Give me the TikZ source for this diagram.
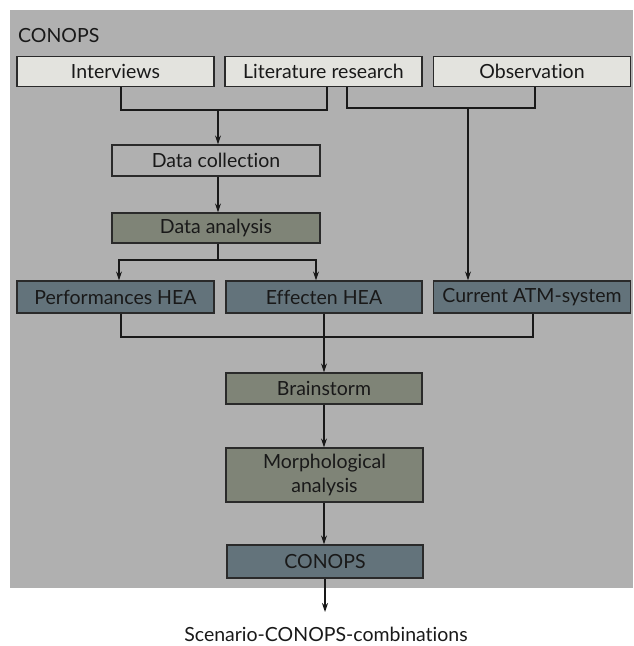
\documentclass[tikz,border=0pt]{standalone}
\usepackage{fontspec}
\setmainfont[Ligatures={NoCommon,NoRare}]{Lato}
\usetikzlibrary{arrows.meta}
\definecolor{bggray}{HTML}{B0B0B0}
\definecolor{lightbox}{HTML}{E3E3DE}
\definecolor{olivebox}{HTML}{7F8477}
\definecolor{bluebox}{HTML}{63737B}
\definecolor{edgecol}{HTML}{2A2A2A}
\tikzset{
  txt/.style={font=\fontsize{19.5}{24}\selectfont, text=black!90},
  box/.style={draw=edgecol, line width=1.3pt, rectangle, inner sep=0pt, align=center, txt},
  lightnode/.style={box, fill=lightbox},
  plainnode/.style={box, fill=none},
  olivenode/.style={box, fill=olivebox},
  bluenode/.style={box, fill=bluebox},
  conn/.style={draw=black!90, line width=1.1pt},
  arr/.style={conn, -{Stealth[length=9pt,width=6pt]}},
}
\begin{document}
\begin{tikzpicture}[x=1pt,y=-1pt]
\useasboundingbox (0,0) rectangle (633,646);
\fill[bggray] (10,10) rectangle (633,588);
\node[anchor=west, txt, inner sep=0pt] (title) at (18,36) {CONOPS};

\node[lightnode, minimum width=197pt, minimum height=30pt] (int) at (115.5,71.5) {Interviews};
\node[lightnode, minimum width=197pt, minimum height=30pt] (lit) at (323.5,71.5) {Literature research};
\node[lightnode, minimum width=197pt, minimum height=30pt] (obs) at (532,71.5) {Observation};

\node[plainnode, minimum width=208pt, minimum height=31pt] (dc) at (216,160.5) {Data collection};
\node[olivenode, minimum width=208pt, minimum height=30pt] (da) at (216,228) {Data analysis};

\node[bluenode, minimum width=197pt, minimum height=32pt] (perf) at (115.5,297) {Performances HEA};
\node[bluenode, minimum width=196pt, minimum height=32pt] (eff) at (324,297) {Effecten HEA};
\node[bluenode, minimum width=197pt, minimum height=32pt] (atm) at (532,297) {Current ATM-system};

\node[olivenode, minimum width=196pt, minimum height=31pt] (brain) at (324,388.5) {Brainstorm};
\node[olivenode, minimum width=197pt, minimum height=54pt] (morph) at (324.5,475) {Morphological\\analysis};
\node[bluenode, minimum width=196pt, minimum height=33pt] (con) at (325,561.5) {CONOPS};

\node[txt] (out) at (326,634) {Scenario-CONOPS-combinations};

% top connectors
\coordinate (j1) at (218,110);
\coordinate (j2) at (468,108);
\draw[conn] (int.south -| 121,0) -- (121,110) -- (327,110) -- (lit.south -| 327,0);
\draw[arr] (j1) -- (dc.north -| j1);
\draw[conn] (lit.south -| 347,0) -- (347,108) -- (535,108) -- (obs.south -| 535,0);
\draw[arr] (j2) -- (atm.north -| j2);

\draw[arr] (dc.south -| 218,0) -- (da.north -| 218,0);

\coordinate (j3) at (218,260);
\draw[conn] (da.south -| j3) -- (j3);
\draw[arr] (j3) -| (perf.north -| 119,0);
\draw[arr] (j3) -| (eff.north -| 316,0);

\coordinate (j4) at (324,337);
\draw[conn] (perf.south -| 121,0) -- (121,337) -- (533,337) -- (atm.south -| 533,0);
\draw[conn] (eff.south -| j4) -- (j4);
\draw[arr] (j4) -- (brain.north -| j4);

\draw[arr] (brain.south -| 324,0) -- (morph.north -| 324,0);
\draw[arr] (morph.south -| 324,0) -- (con.north -| 324,0);
\coordinate (endout) at (325,612);
\draw[arr] (con.south -| 325,0) -- (endout);
\end{tikzpicture}
\end{document}
